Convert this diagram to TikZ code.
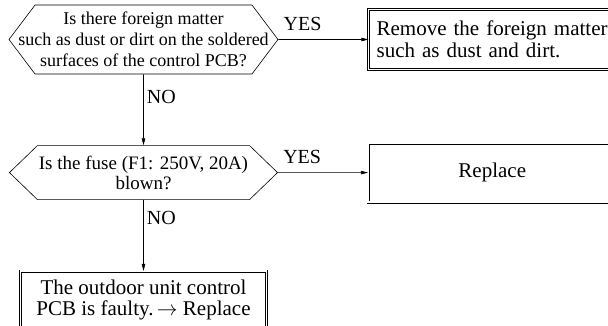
\documentclass[tikz,border=0pt]{standalone}
\usepackage{fontspec}
\setmainfont{Liberation Serif}
\usetikzlibrary{positioning,shapes.symbols,arrows.meta}
\newcommand{\qfont}{\fontsize{18}{21}\selectfont}

\tikzset{
  question/.style={draw, line width=0.6pt, signal, signal to=west and east, align=center},
  action/.style={draw, double, double distance=1.6pt, line width=0.6pt, minimum width=246pt, font=\fontsize{21}{21.5}\selectfont},
  flow/.style={-{Triangle[length=7pt,width=3.5pt]}, line width=0.6pt},
  answer/.style={font=\fontsize{20}{20}\selectfont, inner sep=0pt}
}

\begin{document}
\begin{tikzpicture}[x=1pt,y=1pt]
\useasboundingbox (0,0) rectangle (608,325);
\clip (0,0) rectangle (608,325);
\node[question, font=\qfont, signal pointer angle=106, inner xsep=-16.75pt, minimum height=69pt] (q1) at (143.5,285.5)
  {Is there foreign matter\\such as dust or dirt on the soldered\\surfaces of the control PCB?};
\node[question, font=\fontsize{19}{20}\selectfont, signal pointer angle=88, inner xsep=1.5pt, minimum height=54pt, below=71pt of q1] (q2)
  {Is the fuse (F1: 250V, 20A)\\blown?};

\node[action, minimum height=60pt, inner xsep=8pt, text width=250pt, align=left, right=90pt of q1] (fix1)
  {Remove the foreign matter\\such as dust and dirt.};
\node[action, minimum height=59pt, minimum width=248pt, right=90pt of q2] (fix2) {Replace};
\node[action, minimum height=58pt, align=center, below=71pt of q2] (pcb)
  {The outdoor unit control\\PCB is faulty.\,$\rightarrow$ Replace};

\draw[flow] (q1) -- node[answer, pos=0, anchor=base west, xshift=5pt, yshift=9pt] {YES} (fix1);
\draw[flow] (q1) -- node[answer, pos=0, anchor=base west, xshift=3pt, yshift=-29pt] {NO} (q2);
\draw[flow] (q2) -- node[answer, pos=0, anchor=base west, xshift=5pt, yshift=9pt] {YES} (fix2);
\draw[flow] (q2) -- node[answer, pos=0, anchor=base west, xshift=3pt, yshift=-25pt] {NO} (pcb);
\end{tikzpicture}
\end{document}
